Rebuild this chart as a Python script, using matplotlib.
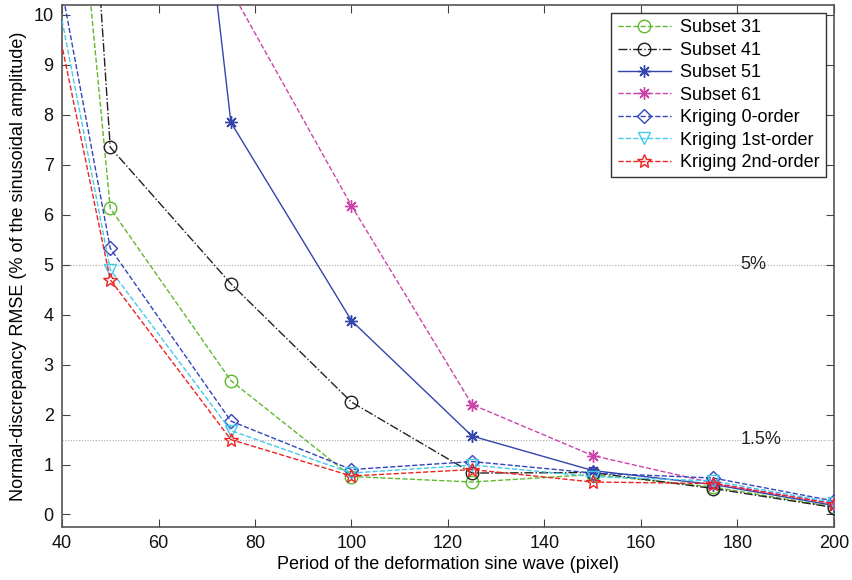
import numpy as np
import matplotlib
matplotlib.use("Agg")
import matplotlib.pyplot as plt

plt.rcParams['font.family'] = ['Liberation Sans', 'DejaVu Sans']

periods = [25, 50, 75, 100, 125, 150, 175, 200]
nan = np.nan
subset31 = [31.4, 6.13, 2.68, 0.76, 0.65, 0.80, 0.55, 0.15]
subset41 = [43.9, 7.35, 4.62, 2.25, 0.83, 0.84, 0.52, 0.14]
subset51 = [nan, 28.8, 7.85, 3.88, 1.57, 0.88, 0.60, 0.18]
subset61 = [nan, 25.0, 10.5, 6.18, 2.20, 1.18, 0.63, 0.22]
krig0 = [18.25, 5.33, 1.87, 0.90, 1.06, 0.83, 0.73, 0.27]
krig1 = [17.4, 4.90, 1.68, 0.83, 0.99, 0.76, 0.67, 0.24]
krig2 = [16.4, 4.70, 1.50, 0.77, 0.90, 0.65, 0.62, 0.21]

labels = ['Subset 31', 'Subset 41', 'Subset 51', 'Subset 61',
          'Kriging 0-order', 'Kriging 1st-order', 'Kriging 2nd-order']
thresholds = [5.0, 1.5]
threshold_labels = ['5%', '1.5%']

fig = plt.figure(figsize=(8.53, 5.8), dpi=100)
ax = fig.add_axes([0.0727, 0.0914, 0.905, 0.9])

ax.axhline(thresholds[0], color='#aaaaaa', lw=0.8, ls=(0, (1, 1.5)), zorder=1)
ax.axhline(thresholds[1], color='#aaaaaa', lw=0.8, ls=(0, (1, 1.5)), zorder=1)
ax.text(183.3, thresholds[0], threshold_labels[0], fontsize=13, ha='center', va='center', color='#222222')
ax.text(184.8, thresholds[1], threshold_labels[1], fontsize=13, ha='center', va='center', color='#222222')

styles = [
    dict(color='#5fba2e', ls='--', marker='o', ms=9),
    dict(color='#222222', ls='-.', marker='o', ms=9),
    dict(color='#3344aa', ls='-', marker=(8, 2, 0), ms=9),
    dict(color='#cc44aa', ls='--', marker=(8, 2, 0), ms=9),
    dict(color='#3344bb', ls='--', marker='D', ms=7),
    dict(color='#44c8ec', ls='--', marker='v', ms=9),
    dict(color='#ee2222', ls='--', marker='*', ms=10),
]
series = [subset31, subset41, subset51, subset61, krig0, krig1, krig2]
for data, lab, st in zip(series, labels, styles):
    ax.plot(periods, data, label=lab, lw=1.0, markerfacecolor='none',
            markeredgewidth=1.0, markeredgecolor=st['color'],
            color=st['color'], ls=st['ls'], marker=st['marker'], ms=st['ms'],
            zorder=3)

ax.set_xlim(40, 200)
ax.set_ylim(-0.25, 10.2)
ax.set_xticks(np.arange(40, 201, 20))
ax.set_yticks(np.arange(0, 11, 1))
ax.tick_params(direction='in', top=True, right=True, labelsize=13, length=6,
               color='#444444', labelcolor='#111111', pad=6)
for s in ax.spines.values():
    s.set_color('#555555')
    s.set_linewidth(1.2)

ax.set_xlabel('Period of the deformation sine wave (pixel)', fontsize=13, labelpad=3)
ax.set_ylabel('Normal-discrepancy RMSE (% of the sinusoidal amplitude)', fontsize=13, labelpad=5)

leg = ax.legend(loc='upper right', bbox_to_anchor=(1.0, 1.0), fontsize=13,
                frameon=True, fancybox=False, framealpha=1, edgecolor='#333333',
                handlelength=2.95, handletextpad=0.5, labelspacing=0.3,
                borderpad=0.35, borderaxespad=0.45)
leg.get_frame().set_linewidth(1.0)

fig.savefig('out.png', dpi=100)
